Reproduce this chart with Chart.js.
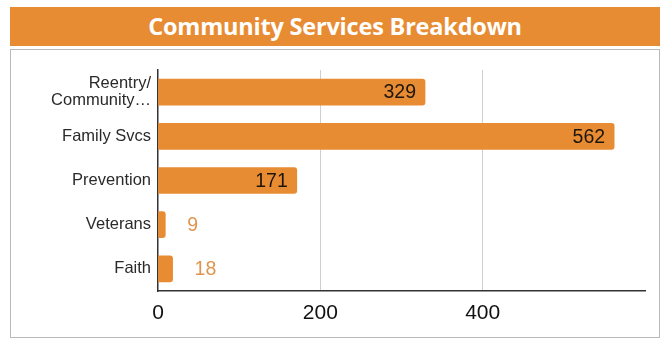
<!DOCTYPE html>
<html>
<head>
<meta charset="utf-8">
<script src="https://cdn.jsdelivr.net/npm/chart.js@4.4.1/dist/chart.umd.min.js"></script>
<style>
  html, body { margin: 0; padding: 0; background: #fff; }
  body { width: 667px; height: 340px; position: relative; overflow: hidden; }
  #banner {
    position: absolute; left: 10px; top: 7px; width: 650px; height: 39px;
    background: #E88C33; color: #fff;
    font-family: "Open Sans", sans-serif; font-weight: 700; font-size: 23.5px;
    line-height: 39px; text-align: center; letter-spacing: -0.2px;
  }
  #box {
    position: absolute; left: 10px; top: 49px; width: 648px; height: 287px;
    border: 1.5px solid #b9b9b9;
  }
  #wrap { position: absolute; left: 0; top: 0; width: 648px; height: 287px; }
</style>
</head>
<body>
<div id="banner">Community Services Breakdown</div>
<div id="box"><div id="wrap"><canvas id="c"></canvas></div></div>
<script>
const categories = [["Reentry/", "Community…"], "Family Svcs", "Prevention", "Veterans", "Faith"];
const values = [329, 562, 171, 9, 18];
const xTicks = [0, 200, 400];

const barColor = "#E88C33";

const valueLabels = {
  id: "valueLabels",
  afterDatasetsDraw(chart) {
    const ctx = chart.ctx;
    const meta = chart.getDatasetMeta(0);
    ctx.save();
    ctx.textBaseline = "middle";
    meta.data.forEach((bar, i) => {
      const v = values[i];
      if (v >= 100) {
        ctx.font = "19.5px 'Liberation Sans', Arial, sans-serif";
        ctx.fillStyle = "#1e150c";
        ctx.textAlign = "right";
        ctx.fillText(String(v), bar.x - 9, bar.y + 1);
      } else {
        ctx.font = "19.5px 'Liberation Sans', Arial, sans-serif";
        ctx.fillStyle = "#DF954C";
        ctx.textAlign = "left";
        ctx.fillText(String(v), bar.x + 22, bar.y + 1);
      }
    });
    ctx.restore();
  }
};

new Chart(document.getElementById("c"), {
  type: "bar",
  data: {
    labels: categories,
    datasets: [{
      data: values,
      backgroundColor: barColor,
      borderRadius: 3,
      borderSkipped: "start",
      barThickness: 26
    }]
  },
  options: {
    indexAxis: "y",
    responsive: true,
    maintainAspectRatio: false,
    animation: false,
    layout: { padding: { top: 20, right: 14, bottom: 0, left: 0 } },
    plugins: { legend: { display: false }, tooltip: { enabled: false } },
    scales: {
      x: {
        min: 0, max: 600,
        afterBuildTicks(scale) { scale.ticks = xTicks.map(v => ({ value: v })); },
        afterFit(scale) { scale.height = 46; },
        grid: {
          color: (c) => (c.tick && c.tick.value === 0) ? "rgba(0,0,0,0)" : "#cfcfcf",
          lineWidth: 1,
          drawTicks: false
        },
        border: { display: true, color: "#333", width: 1.5 },
        ticks: {
          color: "#111",
          padding: 10,
          font: { family: "'Liberation Sans', Arial, sans-serif", size: 21 }
        }
      },
      y: {
        afterFit(scale) { scale.width = 147; },
        grid: { display: false, drawTicks: false },
        border: { display: true, color: "#333", width: 1.5 },
        ticks: {
          color: "#2a2a2a",
          padding: 7,
          font: { family: "'Liberation Sans', Arial, sans-serif", size: 16.5, lineHeight: 1.0 }
        }
      }
    }
  },
  plugins: [valueLabels]
});
</script>
</body>
</html>
